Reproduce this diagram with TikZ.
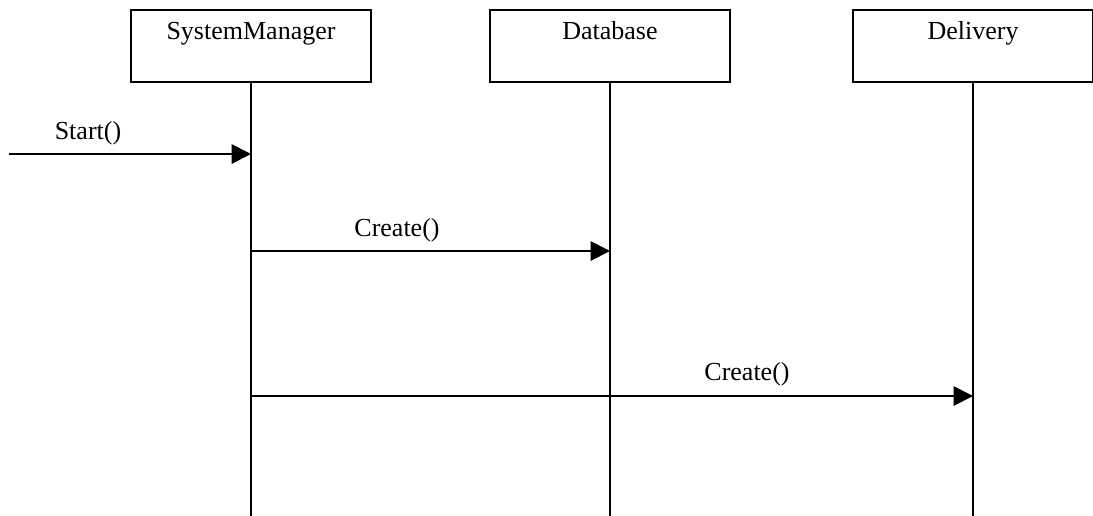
\documentclass[tikz,border=0pt]{standalone}
\usepackage{fontspec}
\setmainfont{Liberation Serif}
\usetikzlibrary{arrows.meta}
\begin{document}
\begin{tikzpicture}[x=0.02cm,y=-0.02cm,
  objbox/.style={draw,line width=1pt,rectangle,anchor=north,minimum width=137pt,
    inner xsep=0pt,inner ysep=0pt,text height=17pt,text depth=24pt,
    font=\fontsize{14.8}{16}\selectfont},
  lifeline/.style={line width=1.1pt},
  msg/.style={line width=1.1pt,-{Triangle[length=11pt,width=11pt]}},
  msglabel/.style={font=\fontsize{14.8}{16}\selectfont,inner sep=0pt}]
\useasboundingbox (0,0) rectangle (1093,515);

% objects
\node[objbox] (sm) at (251,9) {SystemManager};
\node[objbox] (db) at (610,9) {Database};
\node[objbox] (dl) at (973,9) {Delivery};

% lifelines
\coordinate (smEnd) at (251,520);
\coordinate (dbEnd) at (610,520);
\coordinate (dlEnd) at (973,520);
\draw[lifeline] (sm.south) -- (smEnd);
\draw[lifeline] (db.south) -- (dbEnd);
\draw[lifeline] (dl.south) -- (dlEnd);

% message points on the lifelines
\coordinate (src) at (9,154);
\coordinate (smStart) at (251,154);
\coordinate (smC1) at (251,251);
\coordinate (dbC1) at (610,251);
\coordinate (smC2) at (251,396);
\coordinate (dlC2) at (973,396);

% messages
\draw[msg] (src) -- (smStart);
\node[msglabel] (l1) at (88,133) {Start()};
\draw[msg] (smC1) -- (dbC1);
\node[msglabel] (l2) at (397,230) {Create()};
\draw[msg] (smC2) -- (dlC2);
\node[msglabel] (l3) at (747,374) {Create()};
\end{tikzpicture}
\end{document}
